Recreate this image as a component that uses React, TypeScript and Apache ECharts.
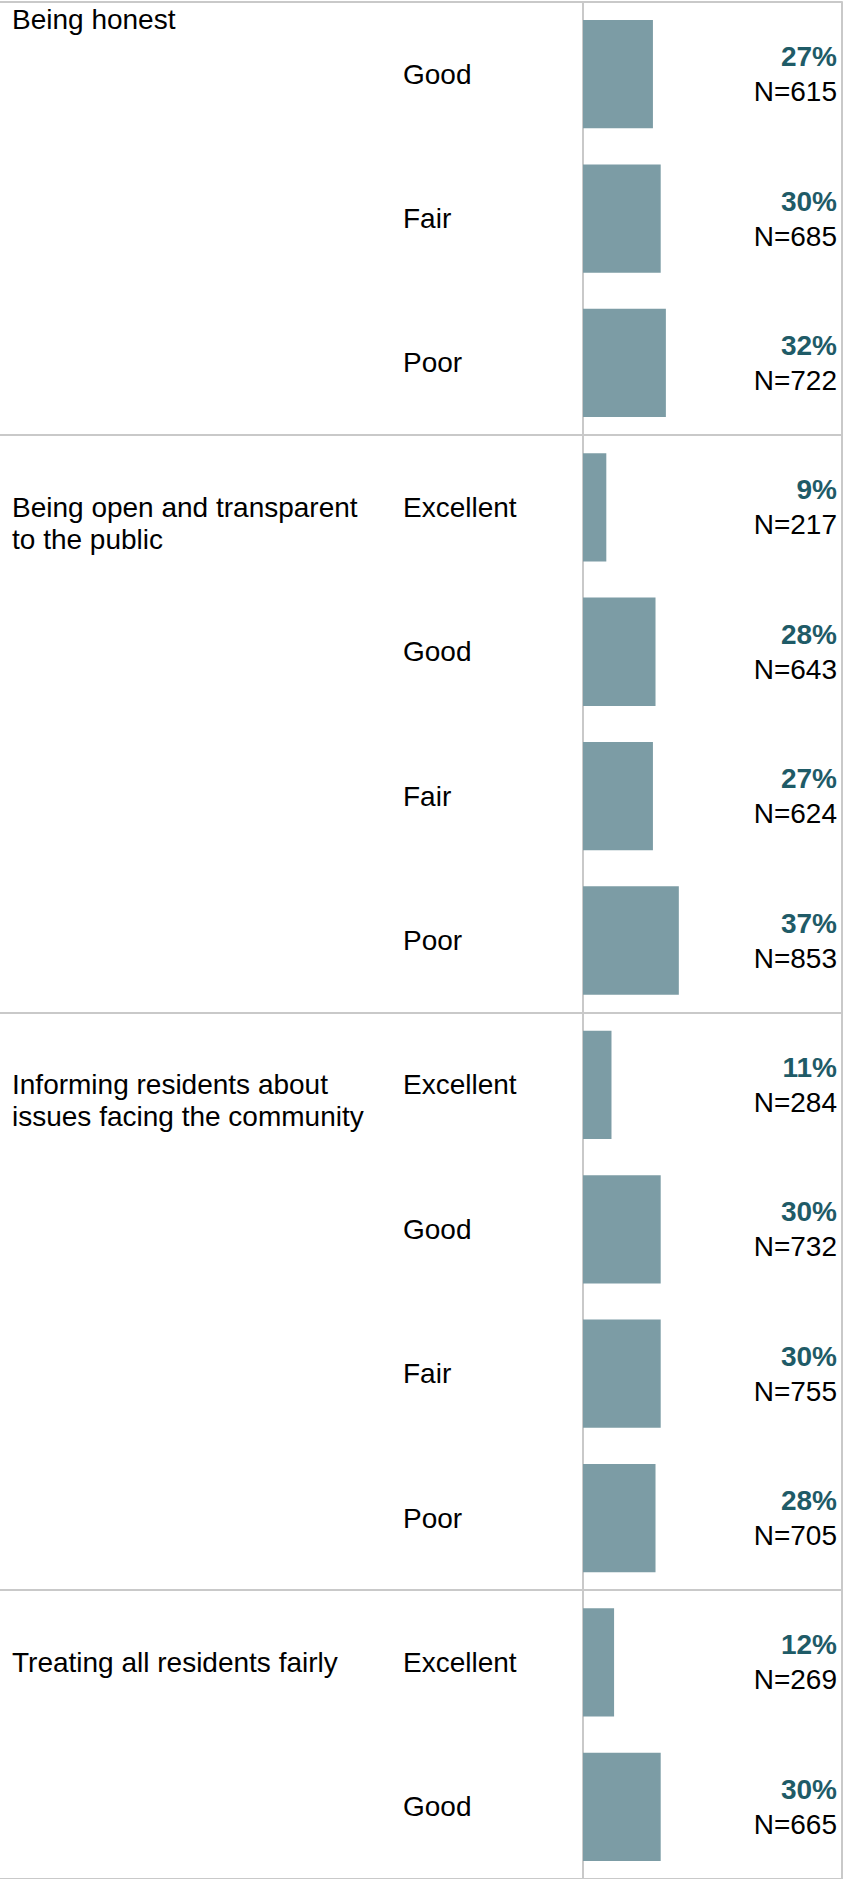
import React, { useEffect, useRef } from "react";
import * as echarts from "echarts";

// ---- data ----
const groupNames: string[][] = [
  ["Being honest"],
  ["Being open and transparent", "to the public"],
  ["Informing residents about", "issues facing the community"],
  ["Treating all residents fairly"],
];
const groupSizes = [3, 4, 4, 2];
const ratings = [
  "Good", "Fair", "Poor",
  "Excellent", "Good", "Fair", "Poor",
  "Excellent", "Good", "Fair", "Poor",
  "Excellent", "Good",
];
const percents = [27, 30, 32, 9, 28, 27, 37, 11, 30, 30, 28, 12, 30];
const counts = [615, 685, 722, 217, 643, 624, 853, 284, 732, 755, 705, 269, 665];

// ---- style ----
const LINE = "#C9C9C9";
const BAR = "#7C9CA5";
const PCT = "#1F5B67";
const FONT = '"Liberation Sans", Arial, Helvetica, sans-serif';
const FS = 28;
const GRID_TOP = 2;
const ROW_H = 144.9;

export default function App() {
  const ref = useRef<HTMLDivElement>(null);

  useEffect(() => {
    if (!ref.current) return;
    const chart = echarts.init(ref.current, undefined, { renderer: "svg" });
    const rowKeys = ratings.map((_, i) => `row${i}`);
    const starts: number[] = [];
    groupSizes.reduce((acc, n) => {
      starts.push(acc);
      return acc + n;
    }, 0);
    const gridH = ROW_H * rowKeys.length;

    chart.setOption({
      animation: false,
      textStyle: { fontFamily: FONT },
      grid: [
        { left: 0, right: 14, top: GRID_TOP, height: gridH },
        { left: 583, right: 14, top: GRID_TOP, height: gridH },
      ],
      xAxis: [
        { gridIndex: 0, type: "value", min: 0, max: 100, show: false },
        { gridIndex: 1, type: "value", min: 0, max: 100, show: false },
      ],
      yAxis: [
        {
          gridIndex: 0,
          type: "category",
          data: rowKeys,
          inverse: true,
          axisLine: { show: false },
          axisTick: { show: false },
          axisLabel: { show: false },
          splitLine: {
            show: true,
            interval: (i: number) => starts.includes(i),
            lineStyle: { color: LINE, width: 2 },
          },
        },
        {
          gridIndex: 1,
          type: "category",
          data: rowKeys,
          inverse: true,
          position: "left",
          offset: 1,
          axisLine: { show: true, lineStyle: { color: LINE, width: 2 } },
          axisTick: { show: false },
          splitLine: { show: false },
          axisLabel: {
            interval: 0,
            margin: 179,
            align: "left",
            color: "#000",
            fontSize: FS,
            fontFamily: FONT,
            formatter: (_v: string, i: number) => ratings[i],
          },
        },
        {
          gridIndex: 1,
          type: "category",
          data: rowKeys,
          inverse: true,
          position: "right",
          axisLine: { show: true, lineStyle: { color: LINE, width: 2 } },
          axisTick: { show: false },
          splitLine: { show: false },
          axisLabel: {
            interval: 0,
            inside: true,
            margin: 5,
            align: "right",
            formatter: (_v: string, i: number) => `{p|${percents[i]}%}\n{n|N=${counts[i]}}`,
            rich: {
              p: { fontSize: FS, fontWeight: "bold", color: PCT, lineHeight: 35, align: "right", fontFamily: FONT },
              n: { fontSize: FS, color: "#000", lineHeight: 35, align: "right", fontFamily: FONT },
            },
          },
        },
      ],
      series: [
        {
          type: "bar",
          xAxisIndex: 1,
          yAxisIndex: 1,
          data: percents,
          barCategoryGap: "25%",
          itemStyle: { color: BAR },
          silent: true,
        },
      ],
    });

    // group labels, positioned through the category axis
    const graphics = groupNames.map((lines, g) => {
      const cy = chart.convertToPixel({ yAxisIndex: 1 }, rowKeys[starts[g]]) as number;
      // first group's opening row lies above the visible area: label pinned at top
      const y = g === 0 ? cy - ROW_H / 2 + 2 : cy - 16;
      return {
        type: "text",
        x: 12,
        y,
        silent: true,
        style: {
          text: lines.join("\n"),
          fill: "#000",
          fontSize: FS,
          fontFamily: FONT,
          lineHeight: 32,
          align: "left",
          verticalAlign: "top",
        },
      };
    });
    chart.setOption({ graphic: graphics });

    return () => chart.dispose();
  }, []);

  return (
    <div
      ref={ref}
      style={{ position: "absolute", left: 0, top: 0, width: 856, height: 1879, background: "#fff" }}
    />
  );
}
